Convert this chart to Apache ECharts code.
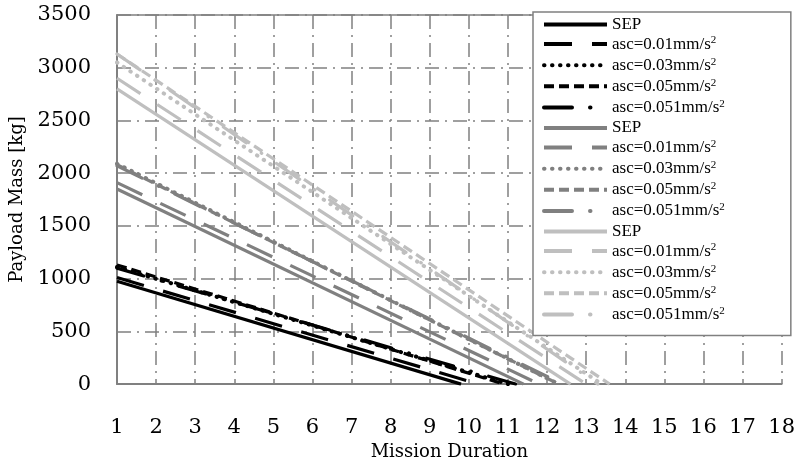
<!DOCTYPE html>
<html>
<head>
<meta charset="utf-8">
<script src="https://cdn.jsdelivr.net/npm/echarts@6/dist/echarts.min.js"></script>
<style>
  html, body { margin: 0; padding: 0; background: #fff; }
  #chart { width: 798px; height: 466px; }
</style>
</head>
<body>
<div id="chart"></div>
<script>
// curve labels (one block per colour group)
const lineNames = ['SEP', 'asc=0.01mm/s2', 'asc=0.03mm/s2', 'asc=0.05mm/s2', 'asc=0.051mm/s2']
const groupColors = ['#000000', '#808080', '#bfbfbf']

// payload mass at 1 year of mission duration [kg]
const startMass = [
  [975, 1010, 1110, 1130, 1100],
  [1850, 1910, 2090, 2080, 2070],
  [2800, 2900, 3050, 3130, 3130]
]
// mission duration where payload mass reaches 0
const endDuration = [
  [9.8, 10.25, 11.0, 10.9, 11.2],
  [11.4, 11.8, 12.3, 12.3, 12.4],
  [12.6, 13.0, 13.4, 13.6, 13.3]
]

const yTicks = [0, 500, 1000, 1500, 2000, 2500, 3000, 3500]

const dashTypes = [
  'solid',
  [28, 20],
  [0.5, 7.5],
  [10, 5],
  [28, 18, 0.5, 18]
]

const chart = echarts.init(document.getElementById('chart'))

const series = []
const legendNames = []
groupColors.forEach((color, g) => {
  lineNames.forEach((name, i) => {
    // zero width spaces keep legend entries unique between groups
    const uname = name + '\u200b'.repeat(g)
    legendNames.push(uname)
    series.push({
      name: uname,
      type: 'line',
      symbol: 'none',
      animation: false,
      data: [[1, startMass[g][i]], [endDuration[g][i], 0]],
      lineStyle: {
        color: color,
        width: i === 2 ? 4 : 3.2,
        type: dashTypes[i],
        cap: i === 2 || i === 4 ? 'round' : 'butt'
      },
      itemStyle: { color: color }
    })
  })
})

const gridColor = '#808080'

chart.setOption({
  backgroundColor: '#fff',
  animation: false,
  grid: { left: 117, right: 15, top: 15, bottom: 81 },
  legend: {
    orient: 'vertical',
    left: 533,
    top: 12,
    data: legendNames,
    itemWidth: 63,
    itemHeight: 12,
    itemGap: 2.1,
    padding: [4, 66, 11, 9],
    backgroundColor: '#fff',
    borderColor: '#808080',
    borderWidth: 1.5,
    selectedMode: false,
    itemStyle: { opacity: 0, borderWidth: 0 },
    lineStyle: { width: 4 },
    formatter: function (name) {
      const n = name.replace(/\u200b/g, '')
      if (n.endsWith('s2')) return '{t|' + n.slice(0, -1) + '}{sup|2}'
      return '{t|' + n + '}'
    },
    textStyle: {
      fontFamily: 'Liberation Serif',
      color: '#000',
      rich: {
        t: { fontFamily: 'Liberation Serif', fontSize: 17, lineHeight: 18, color: '#000' },
        sup: { fontFamily: 'Liberation Serif', fontSize: 11, lineHeight: 18, verticalAlign: 'top', color: '#000', padding: [0, 0, 8, 0] }
      }
    }
  },
  xAxis: [{
    type: 'value',
    min: 1,
    max: 18,
    interval: 1,
    name: 'Mission Duration',
    nameLocation: 'middle',
    nameGap: 48,
    nameTextStyle: { fontFamily: 'DejaVu Serif', fontSize: 18, color: '#000' },
    axisLine: { show: true, lineStyle: { color: gridColor, width: 2 } },
    axisTick: { show: false },
    axisLabel: { margin: 33, fontFamily: 'DejaVu Serif', fontSize: 21, color: '#000' },
    splitLine: { show: true, lineStyle: { color: gridColor, width: 1.5, type: [14, 6, 2, 6] } }
  }, {
    type: 'value',
    position: 'top',
    min: 1,
    max: 18,
    axisLine: { show: true, lineStyle: { color: gridColor, width: 1.5 } },
    axisTick: { show: false },
    axisLabel: { show: false },
    splitLine: { show: false }
  }],
  yAxis: {
    type: 'value',
    min: yTicks[0],
    max: yTicks[yTicks.length - 1],
    interval: 500,
    name: 'Payload Mass [kg]',
    nameLocation: 'middle',
    nameGap: 87,
    nameTextStyle: { fontFamily: 'DejaVu Serif', fontSize: 18, color: '#000' },
    axisLine: { show: true, lineStyle: { color: gridColor, width: 2 } },
    axisTick: { show: false },
    axisLabel: {
      margin: 26,
      fontFamily: 'DejaVu Serif',
      fontSize: 21,
      color: '#000',
      formatter: function (v) { return String(v) }
    },
    splitLine: { show: true, lineStyle: { color: gridColor, width: 1.5, type: [14, 6, 2, 6] } }
  },
  series: series
})
</script>
</body>
</html>
